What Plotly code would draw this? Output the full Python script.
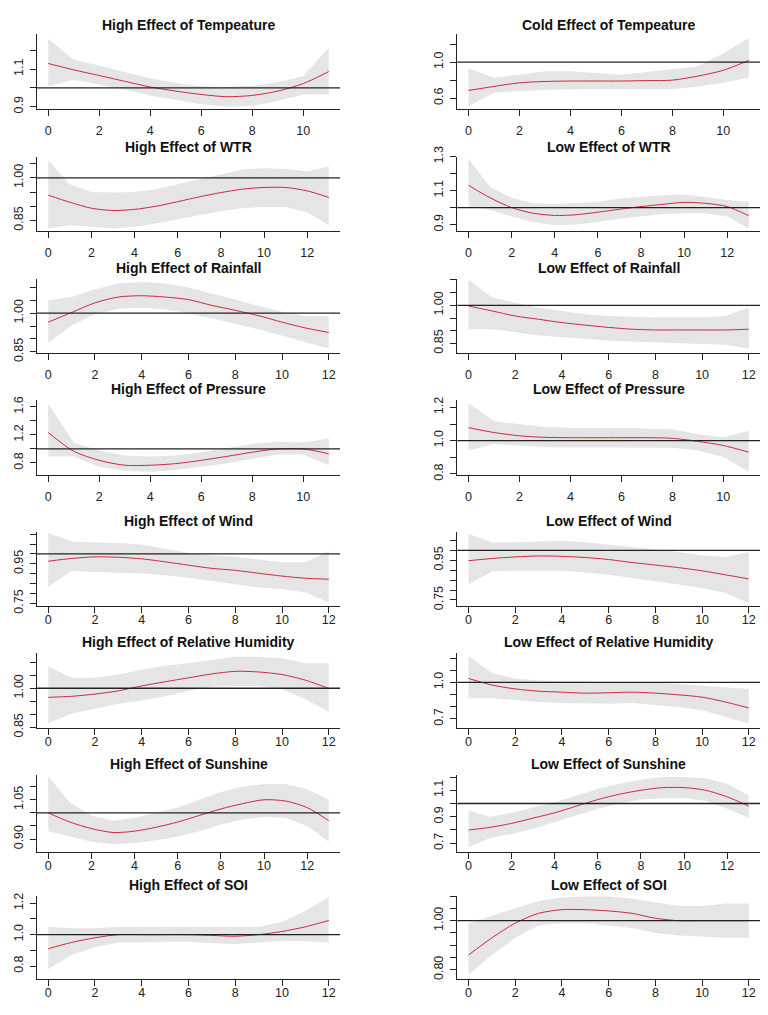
import plotly.graph_objects as go

W, H = 768, 1015

# ---------------- data (lag, fitted RR, lower CI, upper CI) ----------------
titles = [
    "High Effect of Tempeature", "Cold Effect of Tempeature",
    "High Effect of WTR", "Low Effect of WTR",
    "High Effect of Rainfall", "Low Effect of Rainfall",
    "High Effect of Pressure", "Low Effect of Pressure",
    "High Effect of Wind", "Low Effect of Wind",
    "High Effect of Relative Humidity", "Low Effect of Relative Humidity",
    "High Effect of Sunshine", "Low Effect of Sunshine",
    "High Effect of SOI", "Low Effect of SOI",
]

hi_temp_fit = [1.13, 1.096, 1.066, 1.035, 1.005, 0.983, 0.965, 0.953, 0.96, 0.983, 1.023, 1.087]
hi_temp_lo = [1.009, 1.043, 1.017, 0.991, 0.96, 0.936, 0.913, 0.90, 0.904, 0.93, 0.965, 0.965]
hi_temp_hi = [1.26, 1.15, 1.12, 1.087, 1.052, 1.026, 1.009, 1.005, 1.012, 1.03, 1.064, 1.214]

cold_temp_fit = [0.685, 0.73, 0.77, 0.785, 0.79, 0.79, 0.79, 0.795, 0.80, 0.845, 0.91, 1.02]
cold_temp_lo = [0.51, 0.66, 0.68, 0.69, 0.70, 0.70, 0.70, 0.70, 0.70, 0.73, 0.77, 0.83]
cold_temp_hi = [0.93, 0.826, 0.86, 0.90, 0.90, 0.88, 0.86, 0.89, 0.92, 0.955, 1.10, 1.27]

hi_wtr_fit = [0.939, 0.914, 0.893, 0.885, 0.889, 0.90, 0.916, 0.933, 0.948, 0.96, 0.966, 0.966, 0.954, 0.931]
hi_wtr_lo = [0.822, 0.833, 0.828, 0.822, 0.828, 0.839, 0.854, 0.868, 0.882, 0.893, 0.897, 0.897, 0.879, 0.833]
hi_wtr_hi = [1.063, 0.977, 0.95, 0.948, 0.95, 0.96, 0.977, 0.994, 1.011, 1.029, 1.034, 1.031, 1.023, 1.04]

lo_wtr_fit = [1.131, 1.058, 1.0, 0.967, 0.954, 0.958, 0.973, 0.99, 1.006, 1.019, 1.031, 1.025, 1.006, 0.952]
lo_wtr_lo = [1.006, 0.987, 0.948, 0.915, 0.896, 0.90, 0.915, 0.935, 0.948, 0.962, 0.967, 0.967, 0.948, 0.877]
lo_wtr_hi = [1.288, 1.121, 1.058, 1.025, 1.019, 1.025, 1.035, 1.054, 1.063, 1.073, 1.077, 1.063, 1.044, 1.035]

hi_rain_fit = [0.965, 1.0025, 1.04, 1.0625, 1.0675, 1.0625, 1.0525, 1.03, 1.011, 0.99, 0.965, 0.9425, 0.925]
hi_rain_lo = [0.884, 0.9525, 0.996, 1.0175, 1.021, 1.015, 1.0, 0.98, 0.959, 0.9375, 0.915, 0.8875, 0.8625]
hi_rain_hi = [1.05, 1.0625, 1.0925, 1.115, 1.121, 1.115, 1.10, 1.0775, 1.0525, 1.0275, 1.005, 0.9875, 0.99]

lo_rain_fit = [0.997, 0.978, 0.958, 0.945, 0.932, 0.922, 0.913, 0.906, 0.903, 0.903, 0.903, 0.903, 0.906]
lo_rain_lo = [0.906, 0.906, 0.894, 0.881, 0.874, 0.868, 0.861, 0.858, 0.855, 0.851, 0.848, 0.845, 0.829]
lo_rain_hi = [1.101, 1.032, 1.01, 0.991, 0.978, 0.965, 0.958, 0.955, 0.952, 0.952, 0.952, 0.958, 0.991]

hi_pres_fit = [1.233, 0.967, 0.837, 0.767, 0.767, 0.79, 0.837, 0.893, 0.953, 1.0, 1.0, 0.93]
hi_pres_lo = [0.893, 0.893, 0.744, 0.684, 0.674, 0.698, 0.744, 0.79, 0.86, 0.921, 0.921, 0.767]
hi_pres_hi = [1.65, 1.093, 0.977, 0.907, 0.893, 0.907, 0.953, 1.014, 1.07, 1.102, 1.093, 1.149]

lo_pres_fit = [1.078, 1.049, 1.029, 1.02, 1.018, 1.018, 1.018, 1.018, 1.014, 0.996, 0.971, 0.931]
lo_pres_lo = [0.941, 0.98, 0.971, 0.961, 0.957, 0.957, 0.957, 0.957, 0.957, 0.941, 0.902, 0.814]
lo_pres_hi = [1.225, 1.118, 1.098, 1.082, 1.078, 1.075, 1.078, 1.075, 1.069, 1.039, 1.02, 1.059]

hi_wind_fit = [0.963, 0.977, 0.985, 0.983, 0.975, 0.96, 0.943, 0.927, 0.917, 0.902, 0.888, 0.877, 0.872]
hi_wind_lo = [0.835, 0.913, 0.908, 0.905, 0.902, 0.892, 0.88, 0.863, 0.847, 0.83, 0.822, 0.805, 0.755]
hi_wind_hi = [1.105, 1.063, 1.058, 1.055, 1.047, 1.025, 1.005, 0.992, 0.985, 0.972, 0.958, 0.958, 1.013]

lo_wind_fit = [0.948, 0.959, 0.967, 0.972, 0.97, 0.964, 0.954, 0.939, 0.926, 0.913, 0.897, 0.877, 0.856]
lo_wind_lo = [0.828, 0.893, 0.898, 0.898, 0.897, 0.889, 0.877, 0.861, 0.844, 0.828, 0.811, 0.787, 0.734]
lo_wind_hi = [1.082, 1.041, 1.041, 1.044, 1.049, 1.041, 1.028, 1.016, 1.003, 0.992, 0.975, 0.967, 0.992]

hi_rh_fit = [0.965, 0.969, 0.9775, 0.99, 1.009, 1.025, 1.04, 1.055, 1.065, 1.0625, 1.0525, 1.031, 0.999]
hi_rh_lo = [0.865, 0.9025, 0.921, 0.94, 0.9525, 0.969, 0.99, 1.006, 1.009, 1.009, 0.996, 0.959, 0.909]
hi_rh_hi = [1.084, 1.04, 1.04, 1.0525, 1.071, 1.086, 1.096, 1.109, 1.121, 1.121, 1.115, 1.096, 1.096]

lo_rh_fit = [1.032, 0.978, 0.946, 0.927, 0.919, 0.911, 0.914, 0.919, 0.911, 0.897, 0.878, 0.838, 0.789]
lo_rh_lo = [0.87, 0.87, 0.851, 0.838, 0.83, 0.824, 0.824, 0.83, 0.816, 0.797, 0.77, 0.716, 0.662]
lo_rh_hi = [1.216, 1.076, 1.032, 1.014, 1.008, 1.005, 1.005, 1.005, 1.0, 0.986, 0.973, 0.959, 0.946]

hi_sun_fit = [1.0, 0.965, 0.94, 0.925, 0.93, 0.945, 0.965, 0.99, 1.015, 1.035, 1.05, 1.045, 1.02, 0.97]
hi_sun_lo = [0.93, 0.91, 0.89, 0.88, 0.885, 0.895, 0.91, 0.93, 0.955, 0.975, 0.985, 0.98, 0.95, 0.89]
hi_sun_hi = [1.14, 1.04, 0.99, 0.97, 0.98, 1.0, 1.02, 1.05, 1.08, 1.10, 1.11, 1.11, 1.09, 1.05]

lo_sun_fit = [0.80, 0.82, 0.85, 0.89, 0.93, 0.98, 1.03, 1.07, 1.10, 1.12, 1.12, 1.10, 1.05, 0.98]
lo_sun_lo = [0.67, 0.74, 0.77, 0.81, 0.86, 0.91, 0.96, 1.00, 1.03, 1.04, 1.04, 1.02, 0.96, 0.89]
lo_sun_hi = [0.95, 0.90, 0.93, 0.97, 1.01, 1.06, 1.11, 1.15, 1.18, 1.20, 1.20, 1.19, 1.15, 1.06]

hi_soi_fit = [0.91, 0.95, 0.98, 1.0, 1.0, 1.0, 1.0, 0.995, 0.99, 1.0, 1.02, 1.05, 1.09]
hi_soi_lo = [0.78, 0.87, 0.92, 0.95, 0.95, 0.955, 0.955, 0.945, 0.94, 0.95, 0.96, 0.96, 0.95]
hi_soi_hi = [1.05, 1.04, 1.04, 1.05, 1.05, 1.05, 1.05, 1.05, 1.05, 1.05, 1.08, 1.15, 1.24]

lo_soi_fit = [0.86, 0.93, 0.99, 1.03, 1.045, 1.045, 1.04, 1.03, 1.01, 1.0, 1.0, 1.0, 1.0]
lo_soi_lo = [0.78, 0.86, 0.93, 0.98, 0.99, 0.99, 0.98, 0.97, 0.95, 0.94, 0.935, 0.93, 0.93]
lo_soi_hi = [0.99, 1.02, 1.05, 1.08, 1.095, 1.10, 1.10, 1.09, 1.075, 1.06, 1.06, 1.07, 1.07]

series = [
    (hi_temp_fit, hi_temp_lo, hi_temp_hi), (cold_temp_fit, cold_temp_lo, cold_temp_hi),
    (hi_wtr_fit, hi_wtr_lo, hi_wtr_hi), (lo_wtr_fit, lo_wtr_lo, lo_wtr_hi),
    (hi_rain_fit, hi_rain_lo, hi_rain_hi), (lo_rain_fit, lo_rain_lo, lo_rain_hi),
    (hi_pres_fit, hi_pres_lo, hi_pres_hi), (lo_pres_fit, lo_pres_lo, lo_pres_hi),
    (hi_wind_fit, hi_wind_lo, hi_wind_hi), (lo_wind_fit, lo_wind_lo, lo_wind_hi),
    (hi_rh_fit, hi_rh_lo, hi_rh_hi), (lo_rh_fit, lo_rh_lo, lo_rh_hi),
    (hi_sun_fit, hi_sun_lo, hi_sun_hi), (lo_sun_fit, lo_sun_lo, lo_sun_hi),
    (hi_soi_fit, hi_soi_lo, hi_soi_hi), (lo_soi_fit, lo_soi_lo, lo_soi_hi),
]

# y tick values / labels per panel
ytick_vals = [
    [0.9, 1.0, 1.1, 1.2], [0.6, 0.8, 1.0, 1.2],
    [0.85, 0.90, 0.95, 1.00, 1.05], [0.9, 1.0, 1.1, 1.2, 1.3],
    [0.85, 0.90, 0.95, 1.00, 1.05, 1.10], [0.85, 0.90, 0.95, 1.00, 1.05, 1.10],
    [0.8, 1.0, 1.2, 1.4, 1.6], [0.8, 0.9, 1.0, 1.1, 1.2],
    [0.75, 0.80, 0.85, 0.90, 0.95, 1.00, 1.05, 1.10], [0.75, 0.80, 0.85, 0.90, 0.95, 1.00, 1.05],
    [0.85, 0.90, 0.95, 1.00, 1.05, 1.10], [0.7, 0.8, 0.9, 1.0, 1.1, 1.2],
    [0.90, 0.95, 1.00, 1.05, 1.10], [0.7, 0.8, 0.9, 1.0, 1.1, 1.2],
    [0.8, 0.9, 1.0, 1.1, 1.2], [0.80, 0.85, 0.90, 0.95, 1.00, 1.05, 1.10],
]
ytick_text = [
    ["0.9", "", "1.1", ""], ["0.6", "", "1.0", ""],
    ["0.85", "", "", "1.00", ""], ["0.9", "", "1.1", "", "1.3"],
    ["0.85", "", "", "1.00", "", ""], ["0.85", "", "", "1.00", "", ""],
    ["0.8", "", "1.2", "", "1.6"], ["0.8", "", "1.0", "", "1.2"],
    ["0.75", "", "", "", "0.95", "", "", ""], ["0.75", "", "", "", "0.95", "", ""],
    ["0.85", "", "", "1.00", "", ""], ["0.7", "", "", "1.0", "", ""],
    ["0.90", "", "", "1.05", ""], ["0.7", "", "0.9", "", "1.1", ""],
    ["0.8", "", "1.0", "", "1.2"], ["0.80", "", "", "", "1.00", "", ""],
]
y_ranges = [
    [0.89, 1.287], [0.484, 1.313],
    [0.8126, 1.0747], [0.862, 1.30],
    [0.846, 1.134], [0.813, 1.105],
    [0.628, 1.70], [0.794, 1.245],
    [0.738, 1.113], [0.721, 1.095],
    [0.846, 1.134], [0.622, 1.238],
    [0.85, 1.146], [0.633, 1.218],
    [0.72, 1.245], [0.764, 1.10],
]
ref_value = 1.0

# ---------------- layout geometry (pixels) ----------------
row_top = [23.5, 148.5, 273, 396.7, 531, 655.3, 779, 903]
row_bot = [99.5, 224.5, 348.7, 473.3, 606.7, 731.7, 858, 987]
title_y = [14, 138.3, 261.7, 385.7, 520, 644, 768, 892]
col_left = [37, 457.3]
col_right = [340, 760]
xlab_standoff = [4, 4, 4, 4, -4, -4, -4, -4]

FONT = "Liberation Sans, Arial, sans-serif"
BAND = "#e5e5e5"
LINE = "#cc2a44"
AX = "#222222"

fig = go.Figure()
annotations = []
shapes = []

for i, (fit, lo, hi) in enumerate(series):
    r, c = divmod(i, 2)
    n = i + 1
    xa = "x" if n == 1 else f"x{n}"
    ya = "y" if n == 1 else f"y{n}"
    lags = list(range(len(fit)))
    maxlag = lags[-1]
    pad = 0.04 * maxlag

    fig.add_trace(go.Scatter(
        x=lags + lags[::-1], y=hi + lo[::-1], fill="toself", fillcolor=BAND,
        line=dict(width=0, color=BAND), mode="lines", hoverinfo="skip",
        showlegend=False, xaxis=xa, yaxis=ya))
    fig.add_trace(go.Scatter(
        x=lags, y=fit, mode="lines", line=dict(color=LINE, width=1, shape="spline", smoothing=0.8),
        showlegend=False, xaxis=xa, yaxis=ya))

    xd = [col_left[c] / W, col_right[c] / W]
    yd = [1 - row_bot[r] / H, 1 - row_top[r] / H]
    axis_common = dict(showline=True, linecolor=AX, linewidth=1, mirror=False,
                       ticks="outside", ticklen=6, tickcolor=AX, tickwidth=1,
                       showgrid=False, zeroline=False,
                       tickfont=dict(family=FONT, size=12.5, color="#222"))
    fig.layout[("xaxis" if n == 1 else f"xaxis{n}")] = dict(
        domain=xd, anchor=ya, range=[-pad, maxlag + pad],
        tickvals=list(range(0, maxlag + 1, 2)), ticklabelstandoff=xlab_standoff[r],
        **axis_common)
    fig.layout[("yaxis" if n == 1 else f"yaxis{n}")] = dict(
        domain=yd, anchor=xa, range=y_ranges[i],
        tickvals=ytick_vals[i], ticktext=ytick_text[i], tickangle=-90,
        ticklabelstandoff=2, **axis_common)

    shapes.append(dict(type="line", xref=f"{xa} domain", yref=ya, x0=0, x1=1,
                       y0=ref_value, y1=ref_value, line=dict(color=AX, width=1.3),
                       layer="above"))
    annotations.append(dict(text=f"<b>{titles[i]}</b>", xref="paper", yref="paper",
                            x=(col_left[c] + col_right[c]) / 2 / W, y=1 - title_y[r] / H,
                            xanchor="center", yanchor="middle", showarrow=False,
                            font=dict(family=FONT, size=14, color="#111")))

fig.update_layout(width=W, height=H, margin=dict(l=0, r=0, t=0, b=0),
                  paper_bgcolor="white", plot_bgcolor="white",
                  annotations=annotations, shapes=shapes, showlegend=False)
fig.write_html("out.html", config={"displayModeBar": False, "staticPlot": True},
               post_script="document.body.style.margin='0';document.body.style.padding='0';document.body.style.overflow='hidden';")
